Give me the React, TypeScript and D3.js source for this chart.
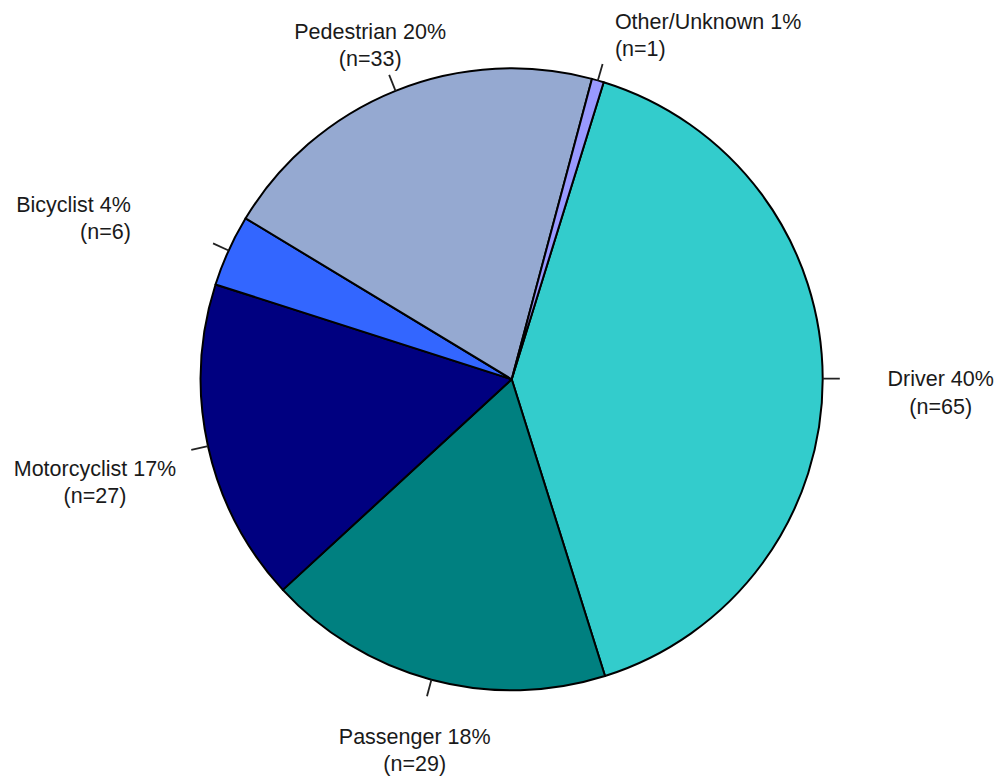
import React, { useEffect } from 'react';
import * as d3 from 'd3';

// slices in clockwise drawing order, starting just right of 12 o'clock
const categories = ['Driver', 'Passenger', 'Motorcyclist', 'Bicyclist', 'Pedestrian', 'Other/Unknown'];
const counts = [65, 29, 27, 6, 33, 1];
const percents = [40, 18, 17, 4, 20, 1];
const colors = ['#33CCCC', '#008080', '#000080', '#3366FF', '#95A9D1', '#9999FF'];

// label placement: distance from centre (in radii), small angle nudge (deg), text anchor
const labelRadius = [1.38, 1.232, 1.38, 1.33, 1.168, 1.156];
const labelNudge = [1.9, -0.3, -1.4, -1.5, -1.0, 0.6];
const labelAnchor = ['middle', 'middle', 'middle', 'end', 'middle', 'start'];

const W = 999;
const H = 780;
const cx = 511.7;
const cy = 379.3;
const R = 311;
const START = (17.2 * Math.PI) / 180;

export default function App() {
  useEffect(() => {
    document.body.style.margin = '0';
  }, []);

  const pie = d3
    .pie<number>()
    .sort(null)
    .value((d) => d)
    .startAngle(START)
    .endAngle(START + 2 * Math.PI);
  const arcs = pie(counts);
  const arc = d3.arc<d3.PieArcDatum<number>>().innerRadius(0).outerRadius(R);

  const polar = (a: number, r: number): [number, number] => [Math.sin(a) * r, -Math.cos(a) * r];

  return (
    <svg width={W} height={H} style={{ display: 'block', background: '#fff' }}>
      <g transform={`translate(${cx},${cy})`}>
        {arcs.map((a, i) => (
          <path key={i} d={arc(a) || ''} fill={colors[i]} stroke="#000" strokeWidth={2} strokeLinejoin="round" />
        ))}
        {arcs.map((a, i) => {
          const mid = (a.startAngle + a.endAngle) / 2;
          const [x1, y1] = polar(mid, R);
          const [x2, y2] = polar(mid, R * 1.055);
          return <line key={'t' + i} x1={x1} y1={y1} x2={x2} y2={y2} stroke="#222" strokeWidth={1.8} />;
        })}
        {arcs.map((a, i) => {
          const mid = (a.startAngle + a.endAngle) / 2 + (labelNudge[i] * Math.PI) / 180;
          const [lx, ly] = polar(mid, R * labelRadius[i]);
          return (
            <text
              key={'l' + i}
              x={lx}
              y={ly}
              textAnchor={labelAnchor[i] as any}
              fontFamily="'Liberation Sans', Arial, sans-serif"
              fontSize={21.5}
              fill="#1a1a1a"
            >
              <tspan x={lx} y={ly - 13.75} dy="0.35em">{`${categories[i]} ${percents[i]}%`}</tspan>
              <tspan x={lx} y={ly + 13.75} dy="0.35em">{`(n=${counts[i]})`}</tspan>
            </text>
          );
        })}
      </g>
    </svg>
  );
}
